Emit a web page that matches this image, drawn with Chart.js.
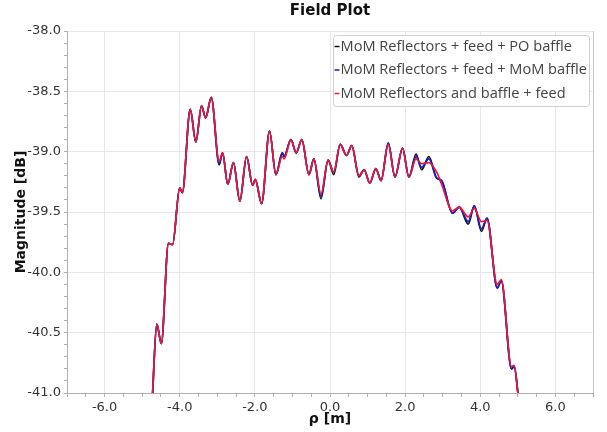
<!DOCTYPE html>
<html lang="en">
<head>
  <meta charset="UTF-8">
  <title>Field Plot</title>
  <script src="https://cdn.jsdelivr.net/npm/chart.js"></script>
  <style>
    html, body { margin: 0; padding: 0; background: #fff; }
  </style>
</head>
<body>
  <canvas id="grafico" width="607" height="432"></canvas>

  <script>
    // rho positions [m] (read at the local peaks / dips of the curves)
    const rho = [-4.73, -4.61, -4.49, -4.30, -4.19, -4.00, -3.93, -3.72, -3.57, -3.42,
      -3.31, -3.16, -2.95, -2.86, -2.72, -2.57, -2.40, -2.22, -2.06, -1.99,
      -1.82, -1.61, -1.44, -1.27, -1.22, -1.04, -0.90, -0.75, -0.56, -0.43,
      -0.24, -0.05, 0.10, 0.27, 0.44, 0.58, 0.77, 0.91, 1.06, 1.22,
      1.36, 1.55, 1.73, 1.93, 2.10, 2.29, 2.44, 2.63, 2.84, 2.97,
      3.26, 3.44, 3.68, 3.84, 4.03, 4.18, 4.45, 4.56, 4.83, 4.90, 5.02];

    // magnitude [dB]
    const poBaffle = [-41.05, -40.43, -40.59, -39.76, -39.77, -39.30, -39.34, -38.65, -38.92, -38.62,
      -38.72, -38.55, -39.11, -39.01, -39.27, -39.09, -39.41, -39.04, -39.28, -39.23,
      -39.43, -38.83, -39.19, -39.01, -39.04, -38.90, -39.01, -38.90, -39.19, -39.06,
      -39.39, -39.07, -39.19, -38.94, -39.03, -38.95, -39.21, -39.15, -39.26, -39.14,
      -39.24, -38.93, -39.21, -38.97, -39.21, -39.02, -39.15, -39.04, -39.22, -39.24,
      -39.51, -39.46, -39.60, -39.45, -39.66, -39.55, -40.13, -40.07, -40.80, -40.78, -41.05];

    const momBaffle = [-41.05, -40.43, -40.59, -39.76, -39.77, -39.30, -39.34, -38.65, -38.92, -38.62,
      -38.72, -38.55, -39.10, -39.01, -39.27, -39.09, -39.41, -39.04, -39.28, -39.23,
      -39.43, -38.83, -39.19, -39.01, -39.04, -38.90, -39.01, -38.90, -39.19, -39.06,
      -39.37, -39.07, -39.17, -38.94, -39.03, -38.95, -39.20, -39.15, -39.26, -39.14,
      -39.24, -38.93, -39.21, -38.97, -39.21, -39.04, -39.13, -39.06, -39.22, -39.24,
      -39.51, -39.46, -39.58, -39.45, -39.64, -39.55, -40.13, -40.07, -40.80, -40.78, -41.05];

    const momAll = [-41.05, -40.43, -40.59, -39.76, -39.77, -39.30, -39.34, -38.65, -38.92, -38.62,
      -38.72, -38.55, -39.08, -39.01, -39.27, -39.09, -39.41, -39.04, -39.28, -39.23,
      -39.43, -38.83, -39.19, -39.04, -39.06, -38.90, -39.01, -38.90, -39.19, -39.06,
      -39.35, -39.07, -39.17, -38.94, -39.03, -38.95, -39.20, -39.15, -39.26, -39.14,
      -39.24, -38.94, -39.21, -38.97, -39.21, -39.06, -39.10, -39.09, -39.17, -39.27,
      -39.49, -39.46, -39.54, -39.47, -39.58, -39.57, -40.10, -40.06, -40.78, -40.77, -41.05];

    const nomes = ['MoM Reflectors + feed + PO baffle', 'MoM Reflectors + feed + MoM baffle', 'MoM Reflectors and baffle + feed'];
    const cores = ['#111111', '#1c1cc8', '#e8193c'];

    const xLabels = [-6, -4, -2, 0, 2, 4, 6];
    const yLabels = [-41, -40.5, -40, -39.5, -39, -38.5, -38];

    function pontos(ys) {
      let data = [];
      for (let i = 0; i < rho.length; i++) {
        data.push({ x: rho[i], y: ys[i] });
      }
      return data;
    }

    function ehMajor(lista, v) {
      return lista.some(m => Math.abs(m - v) < 1e-6);
    }

    // legend box inside the plot + right frame line
    const legendaBox = {
      id: 'legendaBox',
      afterDraw: (chart) => {
        const c = chart.ctx;
        const a = chart.chartArea;

        c.save();
        c.strokeStyle = '#c8c8c8';
        c.lineWidth = 1;
        c.beginPath();
        c.moveTo(Math.round(a.right) + 0.5, a.top);
        c.lineTo(Math.round(a.right) + 0.5, a.bottom);
        c.stroke();

        const bx = 333.5, by = 35.5, bw = 256, bh = 71;
        c.fillStyle = '#ffffff';
        c.strokeStyle = '#cfcfcf';
        c.beginPath();
        c.roundRect(bx, by, bw, bh, 3);
        c.fill();
        c.stroke();

        c.font = '14.6px "Open Sans"';
        c.textBaseline = 'middle';
        c.textAlign = 'left';
        chart.data.datasets.forEach((ds, i) => {
          const yy = by + 11 + i * 23.5;
          c.strokeStyle = ds.borderColor;
          c.lineWidth = 1.5;
          c.beginPath();
          c.moveTo(bx + 1, yy);
          c.lineTo(bx + 6, yy);
          c.stroke();
          c.fillStyle = '#444';
          c.fillText(ds.label, bx + 7, yy);
        });
        c.restore();
      }
    };

    const ctx = document.getElementById('grafico').getContext('2d');

    new Chart(ctx, {
      type: 'line',
      data: {
        datasets: [
          { label: nomes[0], data: pontos(poBaffle), borderColor: cores[0], order: 2 },
          { label: nomes[1], data: pontos(momBaffle), borderColor: cores[1], order: 1 },
          { label: nomes[2], data: pontos(momAll), borderColor: cores[2], order: 0 }
        ]
      },
      options: {
        responsive: false,
        animation: false,
        layout: { padding: { left: 13, right: 14, top: 0, bottom: 0 } },
        elements: {
          point: { radius: 0 },
          line: { borderWidth: 1.7, cubicInterpolationMode: 'monotone', fill: false }
        },
        scales: {
          x: {
            type: 'linear',
            min: -7, max: 7,
            ticks: {
              stepSize: 0.5,
              autoSkip: false,
              maxRotation: 0,
              padding: 3,
              color: '#333',
              font: { family: 'DejaVu Sans', size: 13 },
              callback: (v) => ehMajor(xLabels, v) ? v.toFixed(1) : ''
            },
            grid: {
              color: (c) => ehMajor(xLabels, c.tick.value) ? '#e8e8e8' : 'rgba(0,0,0,0)',
              tickColor: '#b0b0b0',
              tickLength: 4
            },
            border: { color: '#b0b0b0' },
            title: {
              display: true,
              text: 'ρ [m]',
              color: '#111',
              font: { family: 'DejaVu Sans', size: 14, weight: 'bold' },
              padding: { top: 0, bottom: 4 }
            },
            afterFit: (s) => { s.height = 39; }
          },
          y: {
            type: 'linear',
            min: -41, max: -38,
            ticks: {
              stepSize: 0.1,
              autoSkip: false,
              padding: 3,
              color: '#333',
              font: { family: 'DejaVu Sans', size: 13 },
              callback: (v) => ehMajor(yLabels, v) ? v.toFixed(1) : ''
            },
            grid: {
              color: (c) => ehMajor(yLabels, c.tick.value) ? '#e8e8e8' : 'rgba(0,0,0,0)',
              tickColor: '#b0b0b0',
              tickLength: 3
            },
            border: { color: '#b0b0b0' },
            title: {
              display: true,
              text: 'Magnitude [dB]',
              color: '#111',
              font: { family: 'DejaVu Sans', size: 14, weight: 'bold' },
              padding: { top: 0, bottom: 2 }
            },
            afterFit: (s) => { s.width = 54; }
          }
        },
        plugins: {
          legend: { display: false },
          tooltip: { enabled: false },
          title: {
            display: true,
            text: 'Field Plot',
            fullSize: false,
            color: '#111',
            font: { family: 'DejaVu Sans', size: 15, weight: 'bold' },
            padding: { top: 2, bottom: 11 }
          }
        }
      },
      plugins: [legendaBox]
    });
  </script>
</body>
</html>
